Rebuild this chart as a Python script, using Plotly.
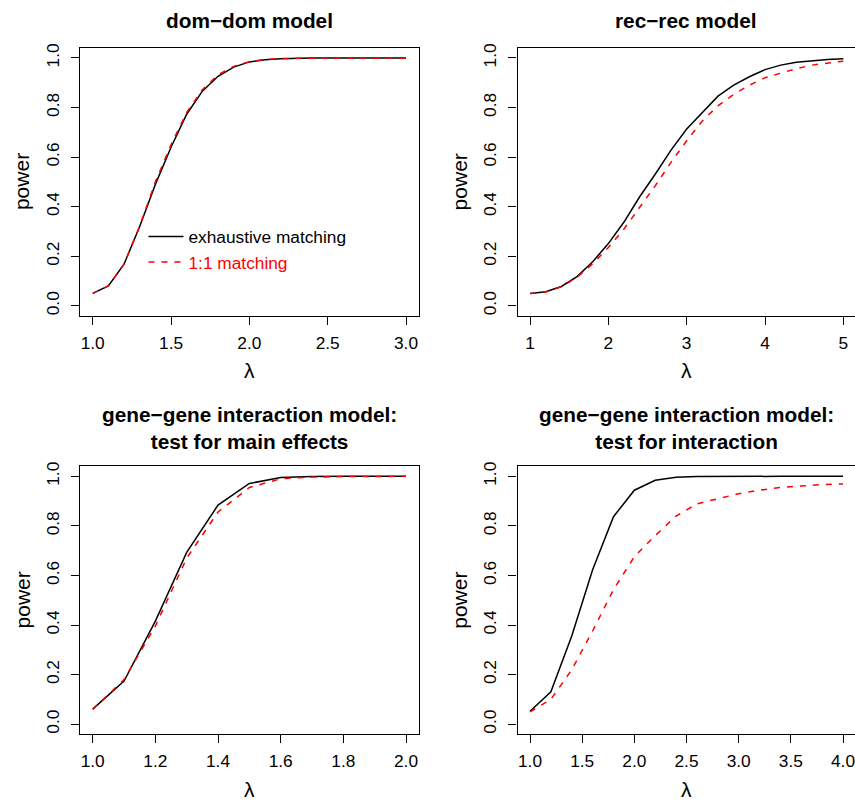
import plotly.graph_objects as go

# ---------------- data ----------------
lam_domdom = [1.0, 1.1, 1.2, 1.3, 1.4, 1.5, 1.6, 1.7, 1.8, 1.9, 2.0, 2.1, 2.2, 2.3, 2.4,
              2.5, 2.6, 2.7, 2.8, 2.9, 3.0]
domdom_exh = [0.05, 0.08, 0.168, 0.32, 0.49, 0.64, 0.773, 0.866, 0.926, 0.963, 0.984, 0.993,
              0.997, 0.999, 1.0, 1.0, 1.0, 1.0, 1.0, 1.0, 1.0]
domdom_11 = [0.05, 0.08, 0.168, 0.322, 0.50, 0.65, 0.78, 0.872, 0.932, 0.966, 0.985, 0.994,
             0.998, 0.999, 1.0, 1.0, 1.0, 1.0, 1.0, 1.0, 1.0]

lam_recrec = [1.0, 1.2, 1.4, 1.6, 1.8, 2.0, 2.2, 2.4, 2.6, 2.8, 3.0, 3.2, 3.4, 3.6, 3.8,
              4.0, 4.2, 4.4, 4.6, 4.8, 5.0]
recrec_exh = [0.05, 0.057, 0.078, 0.118, 0.178, 0.251, 0.338, 0.44, 0.532, 0.628, 0.713,
              0.78, 0.846, 0.89, 0.924, 0.953, 0.971, 0.983, 0.99, 0.994, 0.997]
recrec_11 = [0.05, 0.056, 0.077, 0.115, 0.17, 0.235, 0.31, 0.396, 0.485, 0.579, 0.666,
             0.746, 0.807, 0.853, 0.89, 0.92, 0.94, 0.957, 0.971, 0.98, 0.987]

lam_main = [1.0, 1.1, 1.2, 1.3, 1.4, 1.5, 1.6, 1.7, 1.8, 1.9, 2.0]
main_exh = [0.061, 0.174, 0.416, 0.693, 0.884, 0.971, 0.995, 0.999, 1.0, 1.0, 1.0]
main_11 = [0.06, 0.18, 0.396, 0.67, 0.856, 0.955, 0.99, 0.997, 0.999, 1.0, 1.0]

lam_inter = [1.0, 1.2, 1.4, 1.6, 1.8, 2.0, 2.2, 2.4, 2.6, 2.8, 3.0, 3.2, 3.4, 3.6, 3.8, 4.0]
inter_exh = [0.052, 0.131, 0.356, 0.623, 0.837, 0.944, 0.984, 0.996, 0.999, 1.0, 1.0, 1.0,
             1.0, 1.0, 1.0, 1.0]
inter_11 = [0.05, 0.10, 0.22, 0.376, 0.543, 0.676, 0.761, 0.84, 0.889, 0.91, 0.93, 0.944,
            0.955, 0.961, 0.967, 0.969]

titles = ["dom\u2212dom model", "rec\u2212rec model",
          "gene\u2212gene interaction model:<br>test for main effects",
          "gene\u2212gene interaction model:<br>test for interaction"]
series_names = ["exhaustive matching", "1:1 matching"]

xt1 = [1.0, 1.5, 2.0, 2.5, 3.0]
xt1_lab = ["1.0", "1.5", "2.0", "2.5", "3.0"]
xt2 = [1, 2, 3, 4, 5]
xt2_lab = ["1", "2", "3", "4", "5"]
xt3 = [1.0, 1.2, 1.4, 1.6, 1.8, 2.0]
xt3_lab = ["1.0", "1.2", "1.4", "1.6", "1.8", "2.0"]
xt4 = [1.0, 1.5, 2.0, 2.5, 3.0, 3.5, 4.0]
xt4_lab = ["1.0", "1.5", "2.0", "2.5", "3.0", "3.5", "4.0"]
yt = [0.0, 0.2, 0.4, 0.6, 0.8, 1.0]
yt_lab = ["0.0", "0.2", "0.4", "0.6", "0.8", "1.0"]

# ---------------- figure ----------------
FONT = "Liberation Sans, Arial, Helvetica, sans-serif"
TICK = 17.3
TITLE = 20.8
LAB = 21
LW = 1.5
RED = "#FF0000"

fig = go.Figure()

panels = [
    (lam_domdom, domdom_exh, domdom_11),
    (lam_recrec, recrec_exh, recrec_11),
    (lam_main, main_exh, main_11),
    (lam_inter, inter_exh, inter_11),
]
for i, (lx, ye, y1) in enumerate(panels):
    ax = "" if i == 0 else str(i + 1)
    fig.add_trace(go.Scatter(x=lx, y=ye, mode="lines", name=series_names[0],
                             line=dict(color="black", width=LW),
                             xaxis="x" + ax, yaxis="y" + ax, showlegend=(i == 0)))
    fig.add_trace(go.Scatter(x=lx, y=y1, mode="lines",
                             name="<span style='color:#FF0000'>" + series_names[1] + "</span>",
                             line=dict(color=RED, width=LW, dash="6px,7px"),
                             xaxis="x" + ax, yaxis="y" + ax, showlegend=(i == 0)))

xl = [80.17 / 855, 418.53 / 855]
xr = [517.5 / 855, 1.0]
ytop = [1 - 312.7 / 802, 1 - 43.3 / 802]
ybot = [1 - 733.7 / 802, 1 - 464.3 / 802]

xspecs = [
    (xl, [0.92, 3.08], xt1, xt1_lab),
    (xr, [0.84, 5.149], xt2, xt2_lab),
    (xl, [0.96, 2.04], xt3, xt3_lab),
    (xr, [0.88, 4.115], xt4, xt4_lab),
]
ydoms = [ytop, ytop, ybot, ybot]

common = dict(showgrid=False, zeroline=False, showline=True, linecolor="black",
              linewidth=1.3, ticks="outside", ticklen=8, tickwidth=1.3,
              tickcolor="black", ticklabeloverflow="allow",
              tickfont=dict(family=FONT, size=TICK, color="black"))

for i in range(4):
    ax = "" if i == 0 else str(i + 1)
    dom, rng, tv, tl = xspecs[i]
    fig.layout["xaxis" + ax] = dict(domain=dom, range=rng, tickvals=tv, ticktext=tl,
                                    anchor="y" + ax, mirror=True, ticklabelstandoff=3,
                                    **common)
    fig.layout["yaxis" + ax] = dict(domain=ydoms[i], range=[-0.04, 1.04], tickvals=yt,
                                    ticktext=yt_lab, anchor="x" + ax,
                                    mirror=(i in (0, 2)), tickangle=-90,
                                    ticklabelstandoff=5, **common)

ann = []
for i in range(4):
    ax = "" if i == 0 else str(i + 1)
    xd = "x" + ax + " domain"
    yd = "y" + ax + " domain"
    two = "<br>" in titles[i]
    ann.append(dict(text="<b>" + titles[i] + "</b>", x=0.5, y=1, xref=xd, yref=yd,
                    xanchor="center", yanchor="middle", yshift=(38 if two else 28),
                    showarrow=False, font=dict(family=FONT, size=TITLE, color="black")))
    ann.append(dict(text="\u03bb", x=0.5, y=0, xref=xd, yref=yd, xanchor="center",
                    yanchor="middle", yshift=-55, showarrow=False,
                    font=dict(family=FONT, size=LAB, color="black")))
    ann.append(dict(text="power", x=0, y=0.5, xref=xd, yref=yd, xanchor="center",
                    yanchor="middle", xshift=-58, textangle=-90, showarrow=False,
                    font=dict(family=FONT, size=LAB, color="black")))

fig.update_layout(
    width=855, height=802,
    margin=dict(l=0, r=0, t=0, b=0),
    paper_bgcolor="white", plot_bgcolor="white",
    annotations=ann,
    showlegend=True,
    legend=dict(x=143.5 / 855, y=1 - 215 / 802, xanchor="left", yanchor="top",
                bgcolor="rgba(0,0,0,0)", borderwidth=0, itemwidth=35,
                font=dict(family=FONT, size=TICK, color="black"),
                tracegroupgap=0),
)

fig.write_html("out.html", config={"displayModeBar": False},
               post_script="document.body.style.margin='0px';document.body.style.overflow='hidden';")
